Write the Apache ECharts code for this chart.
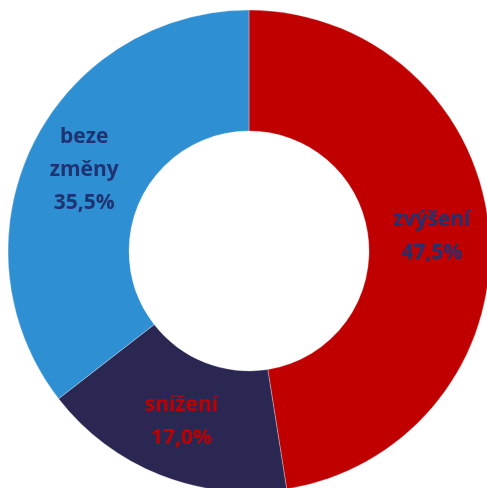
<!DOCTYPE html>
<html>
<head>
<meta charset="utf-8">
<script src="https://cdn.jsdelivr.net/npm/echarts@6/dist/echarts.min.js"></script>
<style>
  html, body { margin: 0; padding: 0; background: #fff; }
  #chart { width: 487px; height: 488px; }
</style>
</head>
<body>
<div id="chart"></div>
<script>
// data
const categories = ['zvýšení', 'snížení', 'beze\nzměny'];
const values = [47.5, 17.0, 35.5];
const sliceColors = ['#C00000', '#2A2852', '#2E8FD3'];
const labelColors = ['#1F3272', '#C00000', '#1F3272'];

const chart = echarts.init(document.getElementById('chart'));

chart.setOption({
  animation: false,
  series: [{
    type: 'pie',
    center: [249, 251],
    radius: [120, 241],
    startAngle: 90,
    clockwise: true,
    avoidLabelOverlap: false,
    itemStyle: {
      borderColor: 'rgba(255,255,255,0.6)',
      borderWidth: 0.5
    },
    label: {
      show: true,
      position: 'inside',
      fontFamily: 'Open Sans',
      fontWeight: 'bold',
      fontSize: 21,
      lineHeight: 33,
      formatter: p => p.name + '\n' + p.value.toFixed(1).replace('.', ',') + '%'
    },
    labelLine: { show: false },
    data: categories.map((name, i) => ({
      name: name,
      value: values[i],
      itemStyle: { color: sliceColors[i] },
      label: { color: labelColors[i] }
    }))
  }]
});
</script>
</body>
</html>
